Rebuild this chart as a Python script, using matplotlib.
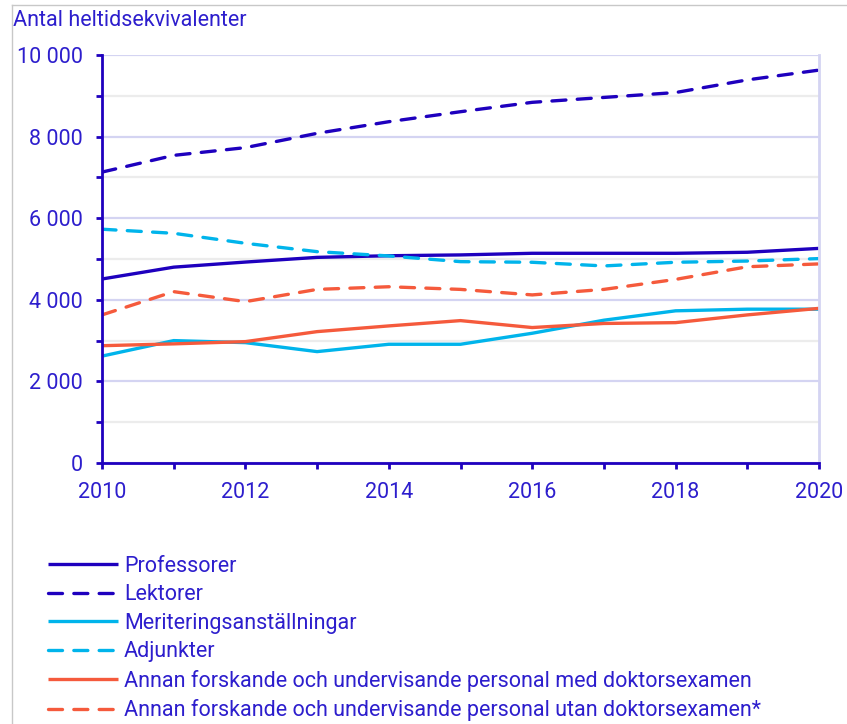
import numpy as np
import matplotlib
matplotlib.use("Agg")
import matplotlib.pyplot as plt
from matplotlib.lines import Line2D
from matplotlib.ticker import MultipleLocator, FuncFormatter

plt.rcParams['font.family'] = ['Roboto', 'DejaVu Sans']

years = list(range(2010, 2021))

professorer = [4510, 4800, 4925, 5040, 5080, 5100, 5140, 5140, 5140, 5165, 5260]
lektorer = [7130, 7540, 7730, 8080, 8365, 8610, 8840, 8960, 9080, 9390, 9630]
meritering = [2620, 3000, 2950, 2730, 2910, 2910, 3180, 3500, 3730, 3770, 3770]
adjunkter = [5730, 5630, 5385, 5180, 5075, 4935, 4920, 4830, 4920, 4950, 5010]
annan_med = [2875, 2920, 2975, 3220, 3360, 3490, 3320, 3420, 3440, 3630, 3790]
annan_utan = [3630, 4200, 3955, 4255, 4320, 4255, 4120, 4255, 4500, 4810, 4880]

labels = ['Professorer', 'Lektorer', 'Meriteringsanställningar', 'Adjunkter',
          'Annan forskande och undervisande personal med doktorsexamen',
          'Annan forskande och undervisande personal utan doktorsexamen*']

dark = '#1e00be'
light = '#00b4eb'
orange = '#f55a3c'
txt = '#2d1ecd'
fs = 15.5

fig = plt.figure(figsize=(8.47, 7.24), dpi=100)
ax = fig.add_axes([102/847, 1-463/724, (819-102)/847, (463-55)/724])

series = [professorer, lektorer, meritering, adjunkter, annan_med, annan_utan]
colors = [dark, dark, light, light, orange, orange]
dashed = [False, True, False, True, False, True]
for vals, c, d, lab in zip(series, colors, dashed, labels):
    ln, = ax.plot(years, vals, color=c, lw=2.4, label=lab, solid_capstyle='butt',
                  dash_capstyle='round')
    if d:
        ln.set_dashes([4.2, 3.4])

ax.set_xlim(2010, 2020)
ax.set_ylim(0, 10000)
ax.xaxis.set_major_locator(MultipleLocator(2))
ax.xaxis.set_minor_locator(MultipleLocator(1))
ax.yaxis.set_major_locator(MultipleLocator(2000))
ax.yaxis.set_minor_locator(MultipleLocator(1000))
ax.yaxis.set_major_formatter(FuncFormatter(lambda v, p: f"{int(v):,}".replace(',', ' ')))

ax.grid(which='major', axis='y', color='#d4d4f2', lw=1.6)
ax.grid(which='minor', axis='y', color='#ececec', lw=1.6)
ax.set_axisbelow(True)

for s in ['left', 'bottom']:
    ax.spines[s].set_color(dark)
    ax.spines[s].set_linewidth(2)
for s in ['right', 'top']:
    ax.spines[s].set_color('#d4d4f2')
    ax.spines[s].set_linewidth(2)
ax.spines['top'].set_visible(False)

ax.tick_params(which='both', color=dark, width=2, length=4, labelcolor=txt, labelsize=fs)
ax.tick_params(axis='y', which='both', pad=10)
ax.tick_params(axis='x', which='both', pad=10)

fig.text(13/847, 1-20/724, 'Antal heltidsekvivalenter', color=txt, fontsize=fs,
         va='center', ha='left')

# frame lines of the page
fig.add_artist(Line2D([12/847, 12/847], [0, 1-5/724], color='#c8c8c8', lw=1))
fig.add_artist(Line2D([12/847, 1], [1-5/724, 1-5/724], color='#c8c8c8', lw=1))

leg = fig.legend(loc='upper left', bbox_to_anchor=(39/847, 1-547/724), frameon=False,
                 fontsize=fs, handlelength=3.25, handletextpad=0.3,
                 labelspacing=0.35, borderaxespad=0)
for t in leg.get_texts():
    t.set_color(txt)

fig.savefig('out.png', dpi=100)
